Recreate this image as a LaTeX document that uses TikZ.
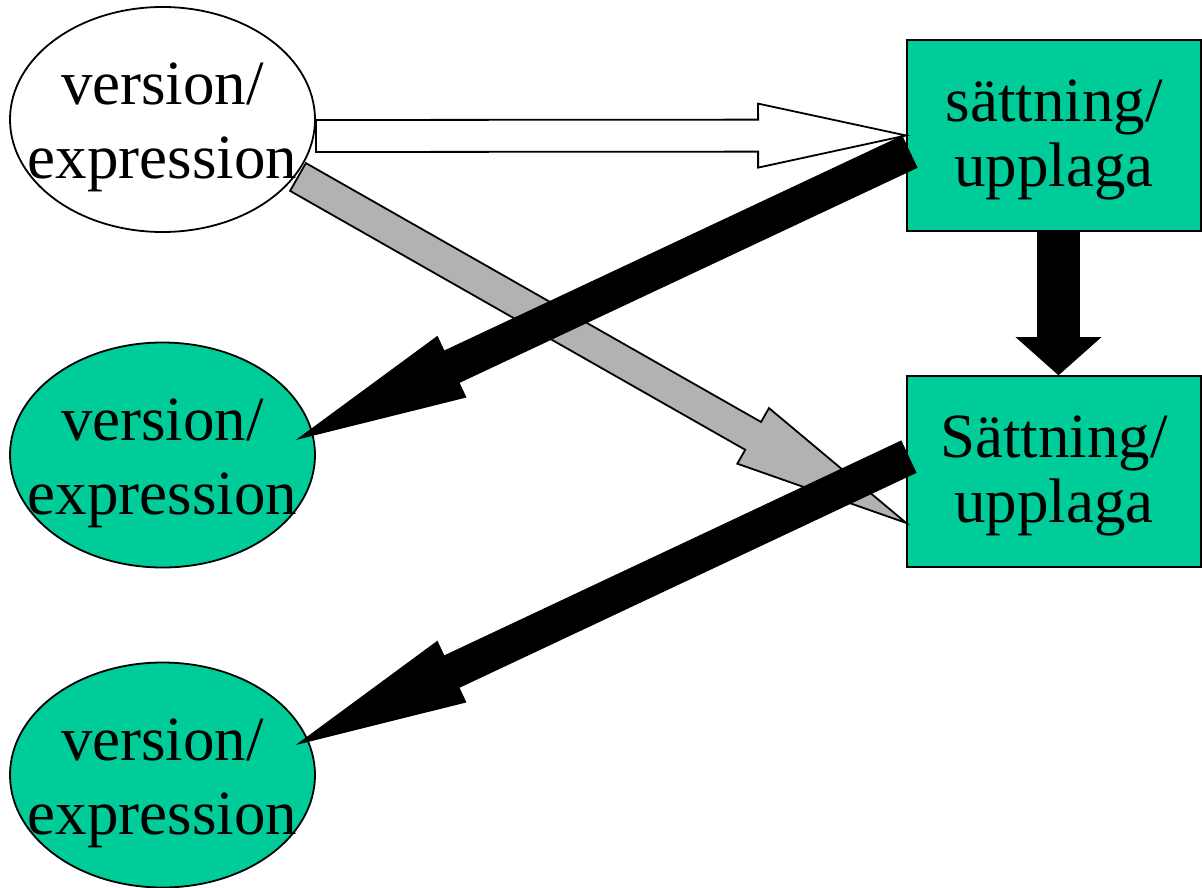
\documentclass[tikz,border=0pt]{standalone}
\usepackage{fontspec}
\setmainfont{Liberation Serif}
\usetikzlibrary{calc,shapes.geometric}
\definecolor{frbrgreen}{RGB}{0,204,153}
\definecolor{frbrgray}{RGB}{178,178,178}
\tikzset{blockarrow/.style={draw,line width=0.9pt,line join=miter},
 every node/.style={font=\fontsize{31.5}{37}\selectfont}}
% block arrow: style, from, to, shaft half width, head length, head half width
\newcommand\blockarrow[6]{%
 \coordinate (ba-base) at ($(#3)!#5!(#2)$);
 \draw[blockarrow,#1] ($(#2)!#4!90:(#3)$) -- ($(ba-base)!#4!90:(#3)$) -- ($(ba-base)!#6!90:(#3)$) -- (#3)
  -- ($(ba-base)!#6!-90:(#3)$) -- ($(ba-base)!#4!-90:(#3)$) -- ($(#2)!#4!-90:(#3)$) -- cycle;}

\begin{document}
\begin{tikzpicture}[x=0.5pt,y=-0.5pt,
 expr/.style={ellipse,draw,line width=0.9pt,inner sep=0pt,minimum width=152.5pt,minimum height=112.5pt},
 exprtext/.style={align=center,inner sep=0pt,yshift=-4pt},
 manif/.style={rectangle,draw,line width=0.9pt,fill=frbrgreen,inner sep=0pt,
  minimum width=147pt,minimum height=95.5pt},
 maniftext/.style={align=center,inner sep=0pt,yshift=-2pt,font=\fontsize{31.5}{32.5}\selectfont}]
\useasboundingbox (0,0) rectangle (1202,887);
\node[expr,fill=white] (v1) at (162.5,119.5) [label={[exprtext]center:version/\\expression}] {};
\node[expr,fill=frbrgreen] (v2) at (162.5,455) [label={[exprtext]center:version/\\expression}] {};
\node[expr,fill=frbrgreen] (v3) at (162.5,775) [label={[exprtext]center:version/\\expression}] {};
\node[manif] (s1) at (1054,135.5) [label={[maniftext]center:sättning/\\upplaga}] {};
\node[manif] (s2) at (1054,471.5) [label={[maniftext]center:Sättning/\\upplaga}] {};
\coordinate (w0) at ($(v1.east)+(0,16.5)$);
\coordinate (g0) at ($(v1.center)+(135.5,57.5)$);
\coordinate (g1) at ($(s2.south west)+(0,-45)$);
\coordinate (b0) at ($(s1.west)+(3,16.5)$);
\coordinate (b1) at ($(v2.center)+(137.5,-17)$);
\coordinate (c0) at ($(s2.west)+(2,-14.5)$);
\coordinate (c1) at ($(v3.center)+(137.5,-32)$);
\coordinate (d0) at ($(s1.south)+(4.5,0)$);
\coordinate (d1) at ($(s2.north)+(4.5,-1)$);
\blockarrow{fill=white}{w0}{s1.west}{8pt}{74pt}{16pt}
\blockarrow{fill=frbrgray}{g0}{g1}{8pt}{88pt}{16pt}
\blockarrow{fill=black}{b0}{b1}{8.5pt}{83.5pt}{16.5pt}
\blockarrow{fill=black}{c0}{c1}{8.5pt}{83.5pt}{16.5pt}
\blockarrow{fill=black}{d0}{d1}{10.25pt}{18pt}{20.25pt}
\end{tikzpicture}
\end{document}
